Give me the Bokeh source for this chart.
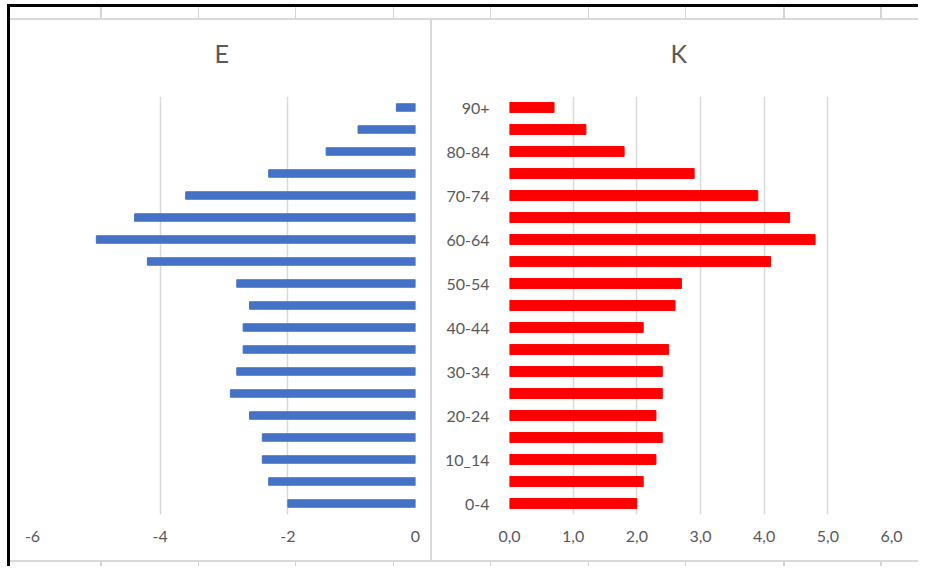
from bokeh.plotting import figure
from bokeh.layouts import row, column
from bokeh.models import Range1d, FixedTicker, Div, Title
from bokeh.embed import file_html
from bokeh.resources import INLINE

# ---- data ----
age_groups = ["0-4", "5-9", "10_14", "15-19", "20-24", "25-29", "30-34", "35-39",
              "40-44", "45-49", "50-54", "55-59", "60-64", "65-69", "70-74",
              "75-79", "80-84", "85-89", "90+"]
e_values = [-2.0, -2.3, -2.4, -2.4, -2.6, -2.9, -2.8, -2.7, -2.7, -2.6,
            -2.8, -4.2, -5.0, -4.4, -3.6, -2.3, -1.4, -0.9, -0.3]
k_values = [2.0, 2.1, 2.3, 2.4, 2.3, 2.4, 2.4, 2.5, 2.1, 2.6,
            2.7, 4.1, 4.8, 4.4, 3.9, 2.9, 1.8, 1.2, 0.7]
shown_age_labels = ["0-4", "10_14", "20-24", "30-34", "40-44",
                    "50-54", "60-64", "70-74", "80-84", "90+"]
e_ticks = [-6, -4, -2, 0]
e_tick_labels = ["-6", "-4", "-2", "0"]
k_ticks = [0, 1, 2, 3, 4, 5, 6]
k_tick_labels = ["0,0", "1,0", "2,0", "3,0", "4,0", "5,0", "6,0"]
title_e = "E"
title_k = "K"

age_pos = list(range(len(age_groups)))
shown_pos = [age_groups.index(g) for g in shown_age_labels]

FONT = "Lato"
TXT = "#595959"
GRID = "#d9d9d9"
CELL = "#d4d4d4"


def style(p, title_offset):
    p.title.text_font = FONT
    p.title.text_font_size = "25px"
    p.title.text_font_style = "normal"
    p.title.text_color = TXT
    p.title.align = "left"
    p.title.standoff = 10
    p.title.offset = title_offset
    # empty spacer between the title and the plot area
    p.add_layout(Title(text=" ", text_font_size="16px", standoff=5), "above")
    p.outline_line_color = None
    p.ygrid.grid_line_color = None
    p.xgrid.grid_line_color = GRID
    p.xgrid.grid_line_width = 1.5
    for ax in (p.xaxis[0], p.yaxis[0]):
        ax.axis_line_color = None
        ax.major_tick_line_color = None
        ax.minor_tick_line_color = None
        ax.major_label_text_font = FONT
        ax.major_label_text_font_size = "16px"
        ax.major_label_text_color = TXT
    p.xaxis.major_label_standoff = 10
    p.background_fill_color = "white"
    p.border_fill_color = "white"


# ---- left panel (E) ----
pe = figure(width=420, height=540, title=title_e,
            x_range=Range1d(-6, 0), y_range=Range1d(-0.5, len(age_groups) - 0.5),
            output_backend="svg", toolbar_location=None,
            min_border_left=22, min_border_right=15, min_border_top=76, min_border_bottom=46)
pe.hbar(y=age_pos, left=0, right=e_values, height=0.34, color="#4472C4")
pe.xaxis.ticker = FixedTicker(ticks=e_ticks)
pe.xaxis.major_label_overrides = dict(zip(e_ticks, e_tick_labels))
style(pe, 182)
pe.yaxis.visible = False

# ---- right panel (K) ----
pk = figure(width=486, height=540, title=title_k,
            x_range=Range1d(0, 6), y_range=Range1d(-0.5, len(age_groups) - 0.5),
            output_backend="svg", toolbar_location=None,
            min_border_left=77, min_border_right=27, min_border_top=76, min_border_bottom=46)
pk.hbar(y=age_pos, left=0, right=k_values, height=0.45, color="#FF0000")
pk.xaxis.ticker = FixedTicker(ticks=k_ticks)
pk.xaxis.major_label_overrides = dict(zip(k_ticks, k_tick_labels))
pk.yaxis.ticker = FixedTicker(ticks=shown_pos)
pk.yaxis.major_label_overrides = {i: age_groups[i] for i in shown_pos}
pk.yaxis.major_label_standoff = 14
style(pk, 161)

# ---- spreadsheet surroundings (pure CSS decoration) ----
cells = ("linear-gradient(to right, transparent 100px, %s 100px 101.5px, transparent 101.5px 198px, "
         "%s 198px 199.5px, transparent 199.5px 295px, %s 295px 296.5px, transparent 296.5px 393px, "
         "%s 393px 394.5px, transparent 394.5px 490px, %s 490px 491.5px, transparent 491.5px 588px, "
         "%s 588px 589.5px, transparent 589.5px 685px, %s 685px 686.5px, transparent 686.5px 783px, "
         "%s 783px 784.5px, transparent 784.5px 880px, %s 880px 881.5px, transparent 881.5px)") % ((CELL,) * 9)
black = "linear-gradient(#000, #000)"
gray = "linear-gradient(%s, %s)" % (GRID, GRID)

top_strip = Div(text="", width=918, height=20, margin=0, styles={
    "background-color": "white",
    "background-image": ", ".join([black, black, gray, cells]),
    "background-position": "7px 4px, 7px 4px, 10px 18px, 0px 7px",
    "background-size": "911px 3px, 3px 16px, 908px 2px, 918px 11px",
    "background-repeat": "no-repeat",
})
left_strip = Div(text="", width=10, height=540, margin=0, styles={
    "background-color": "white",
    "background-image": black,
    "background-position": "7px 0px",
    "background-size": "3px 540px",
    "background-repeat": "no-repeat",
})
separator = Div(text="", width=2, height=540, margin=0, styles={"background-color": GRID})
bottom_strip = Div(text="", width=918, height=6, margin=0, styles={
    "background-color": "white",
    "background-image": ", ".join([black, gray, cells]),
    "background-position": "7px 0px, 10px 0px, 0px 2px",
    "background-size": "3px 6px, 908px 2px, 918px 4px",
    "background-repeat": "no-repeat",
})

layout = column(top_strip, row(left_strip, pe, separator, pk), bottom_strip)
open("out.html", "w").write(file_html(layout, INLINE))
